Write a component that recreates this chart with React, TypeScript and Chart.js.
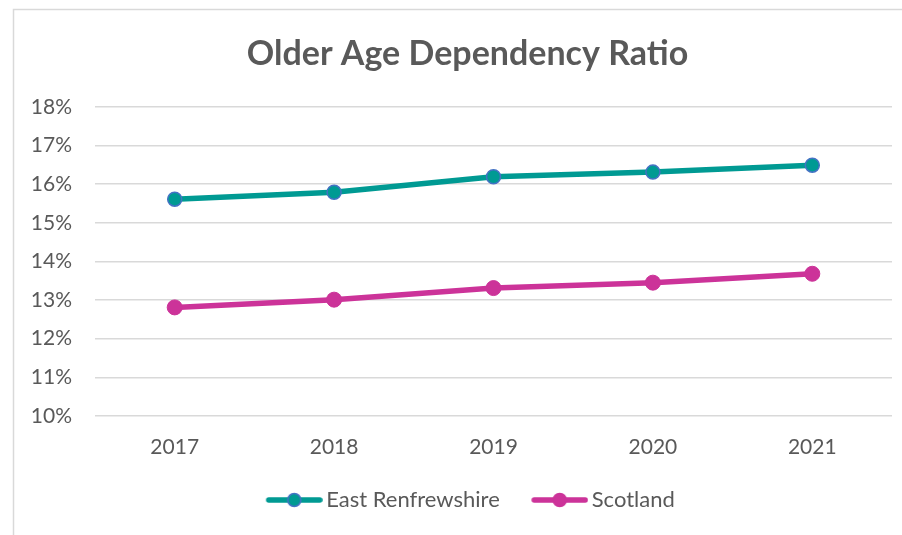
import React, { useEffect, useRef } from "react";
import { Chart, registerables } from "chart.js";

Chart.register(...registerables);

const years = ["2017", "2018", "2019", "2020", "2021"];
const eastRenfrewshire = [15.61, 15.79, 16.19, 16.31, 16.49];
const scotland = [12.81, 13.01, 13.31, 13.45, 13.68];
const yTicks = [10, 11, 12, 13, 14, 15, 16, 17, 18];

const TEAL = "#009A93";
const TEAL_BORDER = "#4472C4";
const PINK = "#CC3399";
const TEXT = "#595959";
const GRID = "#D9D9D9";
const FONT = "Lato, 'Open Sans', sans-serif";

function legendIcon(color: string, border: string) {
  const c = document.createElement("canvas");
  c.width = 70;
  c.height = 20;
  const ctx = c.getContext("2d")!;
  ctx.strokeStyle = color;
  ctx.lineWidth = 5.5;
  ctx.lineCap = "round";
  ctx.beginPath();
  ctx.moveTo(16, 10);
  ctx.lineTo(67, 10);
  ctx.stroke();
  ctx.beginPath();
  ctx.arc(41.5, 10, 6.5, 0, Math.PI * 2);
  ctx.fillStyle = color;
  ctx.fill();
  ctx.lineWidth = 1.5;
  ctx.strokeStyle = border;
  ctx.stroke();
  return c;
}

const framePlugin = {
  id: "frame",
  beforeDraw(chart: any) {
    const ctx = chart.ctx;
    ctx.save();
    ctx.fillStyle = "#ffffff";
    ctx.fillRect(0, 0, chart.width, chart.height);
    ctx.strokeStyle = GRID;
    ctx.lineWidth = 1.5;
    ctx.beginPath();
    ctx.moveTo(13.5, chart.height + 5);
    ctx.lineTo(13.5, 9.5);
    ctx.lineTo(chart.width + 5, 9.5);
    ctx.stroke();
    ctx.restore();
  },
};

export default function App() {
  const ref = useRef<HTMLCanvasElement>(null);
  useEffect(() => {
    if (!ref.current) return;
    const icons = [legendIcon(TEAL, TEAL_BORDER), legendIcon(PINK, PINK)];
    const chart = new Chart(ref.current, {
      type: "line",
      data: {
        labels: years,
        datasets: [
          {
            label: "East Renfrewshire",
            data: eastRenfrewshire,
            borderColor: TEAL,
            backgroundColor: TEAL,
            borderWidth: 5.5,
            pointRadius: 7,
            pointBackgroundColor: TEAL,
            pointBorderColor: TEAL_BORDER,
            pointBorderWidth: 1.5,
            tension: 0,
            borderCapStyle: "round",
            borderJoinStyle: "round",
          },
          {
            label: "Scotland",
            data: scotland,
            borderColor: PINK,
            backgroundColor: PINK,
            borderWidth: 5.5,
            pointRadius: 7.5,
            pointBackgroundColor: PINK,
            pointBorderColor: PINK,
            pointBorderWidth: 1,
            tension: 0,
            borderCapStyle: "round",
            borderJoinStyle: "round",
          },
        ],
      },
      options: {
        animation: false,
        responsive: false,
        maintainAspectRatio: false,
        layout: { padding: { left: 13, right: 0, top: 9, bottom: 14 } },
        plugins: {
          tooltip: { enabled: false },
          title: {
            display: true,
            text: "Older Age Dependency Ratio",
            color: TEXT,
            font: { family: FONT, size: 34, weight: "bold" },
            padding: { top: 25, bottom: 32 },
          },
          legend: {
            position: "bottom",
            labels: {
              color: TEXT,
              font: { family: FONT, size: 22 },
              usePointStyle: true,
              pointStyleWidth: 55,
              padding: 26,
              generateLabels: (chart: any) => {
                const items = Chart.defaults.plugins.legend.labels.generateLabels(chart);
                return items.map((it: any, i: number) => ({ ...it, pointStyle: icons[i] }));
              },
            },
          },
        },
        scales: {
          x: {
            offset: true,
            grid: { display: false },
            border: { display: false },
            ticks: { color: TEXT, font: { family: FONT, size: 21 }, padding: 11 },
            afterFit: (s: any) => {
              s.height = 47;
            },
          },
          y: {
            min: 10,
            max: 18,
            afterBuildTicks: (s: any) => {
              s.ticks = yTicks.map((v) => ({ value: v }));
            },
            grid: { color: GRID, lineWidth: 1.5, drawTicks: false },
            border: { display: false },
            ticks: {
              color: TEXT,
              font: { family: FONT, size: 21 },
              padding: 23,
              callback: (v: any) => v + "%",
            },
            afterFit: (s: any) => {
              s.width = 82;
            },
          },
          yRight: {
            position: "right",
            min: 10,
            max: 18,
            grid: { display: false },
            border: { display: false },
            ticks: { display: false },
            afterFit: (s: any) => {
              s.width = 30;
            },
          },
        },
      },
      plugins: [framePlugin],
    });
    return () => chart.destroy();
  }, []);
  return (
    <div style={{ position: "fixed", left: 0, top: 0, width: 902, height: 535, overflow: "hidden", background: "#fff" }}>
      <canvas ref={ref} width={922} height={535} style={{ display: "block" }} />
    </div>
  );
}
